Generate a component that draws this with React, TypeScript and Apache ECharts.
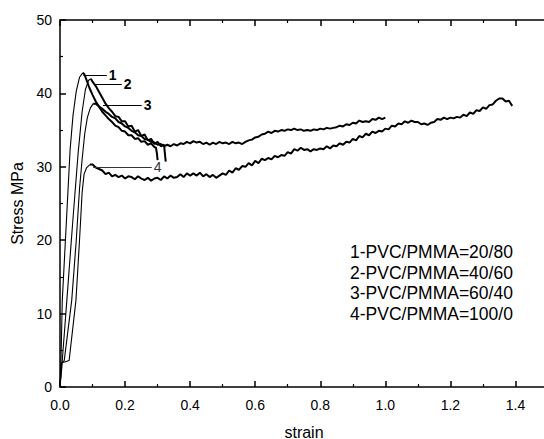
import React, { useEffect, useRef } from "react";
import * as echarts from "echarts";

const xTicks = [0, 0.2, 0.4, 0.6, 0.8, 1.0, 1.2, 1.4];
const legendLines = [
  "1-PVC/PMMA=20/80",
  "2-PVC/PMMA=40/60",
  "3-PVC/PMMA=60/40",
  "4-PVC/PMMA=100/0",
];
const curveLabels = ["1", "2", "3", "4"];

// [strain, stress MPa]
const curve1: [number, number][] = [
  [0, 0], [0.003, 3.6], [0.007, 11.8], [0.019, 22], [0.031, 32.3], [0.04, 37], [0.05, 40.3], [0.06, 42.2], [0.07, 42.8],
  [0.075, 42.6], [0.08, 42.0], [0.09, 40.8], [0.1, 39.8], [0.11, 38.9], [0.12, 38.2], [0.13, 37.5], [0.14, 37.0],
  [0.15, 36.5], [0.16, 36.1], [0.17, 35.6], [0.18, 35.4], [0.19, 34.9], [0.2, 34.8], [0.21, 34.3], [0.22, 34.3],
  [0.23, 33.8], [0.24, 33.9], [0.25, 33.4], [0.26, 33.5], [0.27, 33.0], [0.28, 33.2], [0.29, 32.7], [0.295, 32.6],
  [0.298, 31.8], [0.3, 30.9],
];
const curve2: [number, number][] = [
  [0, 0], [0.004, 3], [0.007, 3.6], [0.021, 11.8], [0.04, 23], [0.056, 32], [0.068, 37.5], [0.078, 40.5], [0.088, 41.8],
  [0.095, 42.0], [0.1, 41.6], [0.11, 41.0], [0.12, 40.2], [0.13, 39.4], [0.14, 38.6], [0.15, 38.0], [0.16, 37.5],
  [0.17, 36.9], [0.18, 36.8], [0.19, 36.2], [0.2, 36.2], [0.21, 35.5], [0.22, 35.6], [0.23, 34.8], [0.24, 35.0],
  [0.25, 34.2], [0.26, 34.4], [0.27, 33.6], [0.28, 33.8], [0.29, 33.1], [0.3, 33.4], [0.31, 32.8], [0.32, 33.0],
  [0.322, 32.0], [0.325, 30.7],
];
const curve3: [number, number][] = [
  [0, 0], [0.005, 3.3], [0.013, 3.6], [0.036, 11.8], [0.05, 20], [0.06, 27], [0.068, 31], [0.076, 34.5], [0.084, 36.7],
  [0.093, 38.0], [0.102, 38.6], [0.11, 38.6], [0.12, 38.2], [0.13, 37.9], [0.14, 37.5], [0.15, 37.2], [0.16, 36.8],
  [0.17, 36.6], [0.18, 36.1], [0.19, 35.9], [0.2, 35.5], [0.21, 35.3], [0.22, 34.9], [0.23, 34.7], [0.24, 34.3],
  [0.25, 34.2], [0.26, 33.8], [0.27, 33.7], [0.28, 33.4], [0.29, 33.3], [0.3, 33.0], [0.31, 33.1], [0.32, 32.8],
  [0.33, 33.0], [0.34, 32.8], [0.35, 33.1], [0.36, 32.9], [0.37, 33.2], [0.38, 33.1], [0.39, 33.4], [0.4, 33.2],
  [0.41, 33.5], [0.42, 33.3], [0.43, 33.4], [0.44, 33.1], [0.45, 33.3], [0.46, 33.0], [0.47, 33.3], [0.48, 33.1],
  [0.49, 33.4], [0.5, 33.2], [0.51, 33.3], [0.52, 33.1], [0.53, 33.4], [0.54, 33.2], [0.55, 33.3], [0.56, 33.1],
  [0.57, 33.4], [0.58, 33.6], [0.59, 33.7], [0.6, 34.0], [0.61, 34.1], [0.62, 34.4], [0.63, 34.5], [0.64, 34.8],
  [0.65, 34.6], [0.66, 34.9], [0.67, 34.8], [0.68, 35.0], [0.69, 34.9], [0.7, 35.1], [0.71, 35.0], [0.72, 35.2],
  [0.73, 35.0], [0.74, 35.1], [0.75, 34.9], [0.76, 35.0], [0.77, 34.9], [0.78, 35.1], [0.79, 35.0], [0.8, 35.2],
  [0.81, 35.1], [0.82, 35.3], [0.83, 35.2], [0.84, 35.3], [0.85, 35.4], [0.86, 35.6], [0.87, 35.5], [0.88, 35.8],
  [0.89, 35.7], [0.9, 36.0], [0.91, 35.9], [0.92, 36.3], [0.93, 36.1], [0.94, 36.2], [0.95, 36.1], [0.96, 36.5],
  [0.97, 36.4], [0.98, 36.7], [0.99, 36.5], [1.0, 36.7],
];
const curve4: [number, number][] = [
  [0, 0], [0.007, 3.3], [0.028, 3.6], [0.049, 11.8], [0.06, 20], [0.068, 26.5], [0.074, 29], [0.082, 29.9], [0.092, 30.3],
  [0.1, 30.3], [0.11, 29.9], [0.12, 29.7], [0.13, 29.5], [0.14, 29.0], [0.15, 29.2], [0.16, 28.7], [0.17, 28.9],
  [0.18, 28.6], [0.19, 28.8], [0.2, 28.4], [0.21, 28.7], [0.22, 28.6], [0.23, 28.3], [0.24, 28.7], [0.25, 28.4],
  [0.26, 28.2], [0.27, 28.5], [0.28, 28.1], [0.29, 28.4], [0.3, 28.5], [0.31, 28.2], [0.32, 28.7], [0.33, 28.4],
  [0.34, 28.8], [0.35, 28.5], [0.36, 28.6], [0.37, 29.0], [0.38, 28.6], [0.39, 29.1], [0.4, 28.8], [0.41, 29.1],
  [0.42, 28.8], [0.43, 29.2], [0.44, 28.7], [0.45, 29.0], [0.46, 28.6], [0.47, 28.9], [0.48, 28.5], [0.49, 28.8],
  [0.5, 29.1], [0.51, 28.9], [0.52, 29.5], [0.53, 29.2], [0.54, 29.8], [0.55, 29.6], [0.56, 30.1], [0.57, 30.0],
  [0.58, 30.5], [0.59, 30.2], [0.6, 30.8], [0.61, 30.5], [0.62, 31.1], [0.63, 30.9], [0.64, 31.2], [0.65, 31.0],
  [0.66, 31.5], [0.67, 31.3], [0.68, 31.6], [0.69, 31.5], [0.7, 32.0], [0.71, 31.8], [0.72, 32.4], [0.73, 32.2],
  [0.74, 32.6], [0.75, 32.3], [0.76, 32.4], [0.77, 32.1], [0.78, 32.4], [0.79, 32.3], [0.8, 32.5], [0.81, 32.4],
  [0.82, 32.8], [0.83, 32.5], [0.84, 32.9], [0.85, 32.8], [0.86, 33.2], [0.87, 33.0], [0.88, 33.4], [0.89, 33.3],
  [0.9, 33.8], [0.91, 33.6], [0.92, 34.2], [0.93, 34.0], [0.94, 34.5], [0.95, 34.3], [0.96, 34.8], [0.97, 34.6],
  [0.98, 34.9], [0.99, 34.8], [1.0, 35.2], [1.01, 35.1], [1.02, 35.6], [1.03, 35.5], [1.04, 35.9], [1.05, 35.8],
  [1.06, 36.2], [1.07, 36.0], [1.08, 36.3], [1.09, 36.1], [1.1, 36.1], [1.11, 35.8], [1.12, 35.9], [1.13, 35.7],
  [1.14, 36.0], [1.15, 36.1], [1.16, 36.5], [1.17, 36.4], [1.18, 36.7], [1.19, 36.5], [1.2, 36.7], [1.21, 36.6],
  [1.22, 36.8], [1.23, 36.7], [1.24, 37.1], [1.25, 36.9], [1.26, 37.4], [1.27, 37.2], [1.28, 37.7], [1.29, 37.6],
  [1.3, 38.1], [1.31, 37.9], [1.32, 38.4], [1.33, 38.5], [1.34, 39.0], [1.35, 39.3], [1.36, 39.3], [1.37, 38.9],
  [1.38, 39.0], [1.39, 38.3],
];
// leader lines: [x1, x2, y]
const leaders: [number, number, number][] = [
  [0.072, 0.144, 42.5],
  [0.108, 0.19, 41.3],
  [0.132, 0.251, 38.4],
  [0.102, 0.282, 30.0],
];
// strain where the thin elastic rise ends and the noisy trace starts
const riseEnds = [0.07, 0.095, 0.102, 0.092];

const FONT = "Liberation Sans, Arial, Helvetica, sans-serif";

export default function App() {
  const ref = useRef<HTMLDivElement>(null);
  useEffect(() => {
    if (!ref.current) return;
    const chart = echarts.init(ref.current, undefined, { renderer: "svg" });
    const curves = [curve1, curve2, curve3, curve4];
    const series: any[] = [];
    curves.forEach((c, i) => {
      const rise = c.filter((p) => p[0] <= riseEnds[i] + 1e-9);
      const tail = c.filter((p) => p[0] >= riseEnds[i] - 1e-9);
      const labelColor = i === 3 ? "#333333" : "#000000";
      const labelStyle = {
        show: true,
        position: "end",
        distance: 2,
        formatter: curveLabels[i],
        fontFamily: FONT,
        fontSize: 14,
        fontWeight: i === 3 ? "normal" : "bold",
        color: labelColor,
      };
      series.push({
        type: "line",
        data: rise,
        showSymbol: false,
        symbol: "none",
        color: "#000",
        lineStyle: { color: "#000", width: 1.1 },
        z: 3,
      });
      series.push({
        type: "line",
        data: tail,
        showSymbol: false,
        symbol: "none",
        color: "#000",
        itemStyle: { color: "#000" },
        lineStyle: { color: "#000", width: 2 },
        z: 3,
        markLine: {
          silent: true,
          symbol: ["none", "none"],
          itemStyle: { color: labelColor },
          lineStyle: { color: labelColor, width: 1, type: "solid" },
          label: labelStyle,
          data: [
            [
              { coord: [leaders[i][0], leaders[i][2]], itemStyle: { color: labelColor } },
              { coord: [leaders[i][1], leaders[i][2]], itemStyle: { color: labelColor }, label: labelStyle },
            ],
          ],
        },
      });
    });
    const axisLine = { show: true, onZero: false, lineStyle: { color: "#000", width: 1.5 } };
    chart.setOption({
      animation: false,
      backgroundColor: "#fff",
      grid: { left: 60, top: 20, right: -4, bottom: 52, containLabel: false, outerBoundsMode: "none" },
      xAxis: [
        {
          type: "value",
          min: 0,
          max: 1.5,
          interval: 0.2,
          position: "bottom",
          name: "strain",
          nameLocation: "middle",
          nameGap: 37,
          nameTextStyle: { fontFamily: FONT, fontSize: 16, color: "#000" },
          axisLine,
          axisTick: { show: true, inside: true, length: 6, lineStyle: { color: "#000", width: 1.5 } },
          minorTick: { show: true, splitNumber: 2, length: 3, lineStyle: { color: "#000", width: 1.2 } },
          axisLabel: {
            fontFamily: FONT,
            fontSize: 14,
            color: "#000",
            margin: 11,
            formatter: (v: number) => (xTicks.some((t) => Math.abs(t - v) < 1e-6) ? v.toFixed(1) : ""),
          },
          splitLine: { show: false },
        },
        {
          type: "value",
          min: 0,
          max: 1.5,
          interval: 0.2,
          position: "top",
          axisLine,
          axisTick: { show: true, inside: true, length: 6, lineStyle: { color: "#000", width: 1.5 } },
          minorTick: { show: true, splitNumber: 2, length: 3, lineStyle: { color: "#000", width: 1.2 } },
          axisLabel: { show: false },
          splitLine: { show: false },
        },
      ],
      yAxis: {
        type: "value",
        min: 0,
        max: 50,
        interval: 10,
        name: "Stress MPa",
        nameLocation: "middle",
        nameGap: 35,
        nameTextStyle: { fontFamily: FONT, fontSize: 16, color: "#000" },
        axisLine,
        axisTick: { show: true, inside: true, length: 6, lineStyle: { color: "#000", width: 1.5 } },
        minorTick: { show: true, splitNumber: 2, length: 3, lineStyle: { color: "#000", width: 1.2 } },
        axisLabel: { fontFamily: FONT, fontSize: 14, color: "#000", margin: 8 },
        splitLine: { show: false },
      },
      graphic: legendLines.map((t, i) => ({
        type: "text",
        left: 350,
        top: 243 + i * 20.7,
        style: { text: t, fontFamily: FONT, fontSize: 17.5, fill: "#000" },
      })),
      series,
    });
    return () => chart.dispose();
  }, []);
  return <div ref={ref} style={{ position: "fixed", left: 0, top: 0, width: 544, height: 439 }} />;
}
